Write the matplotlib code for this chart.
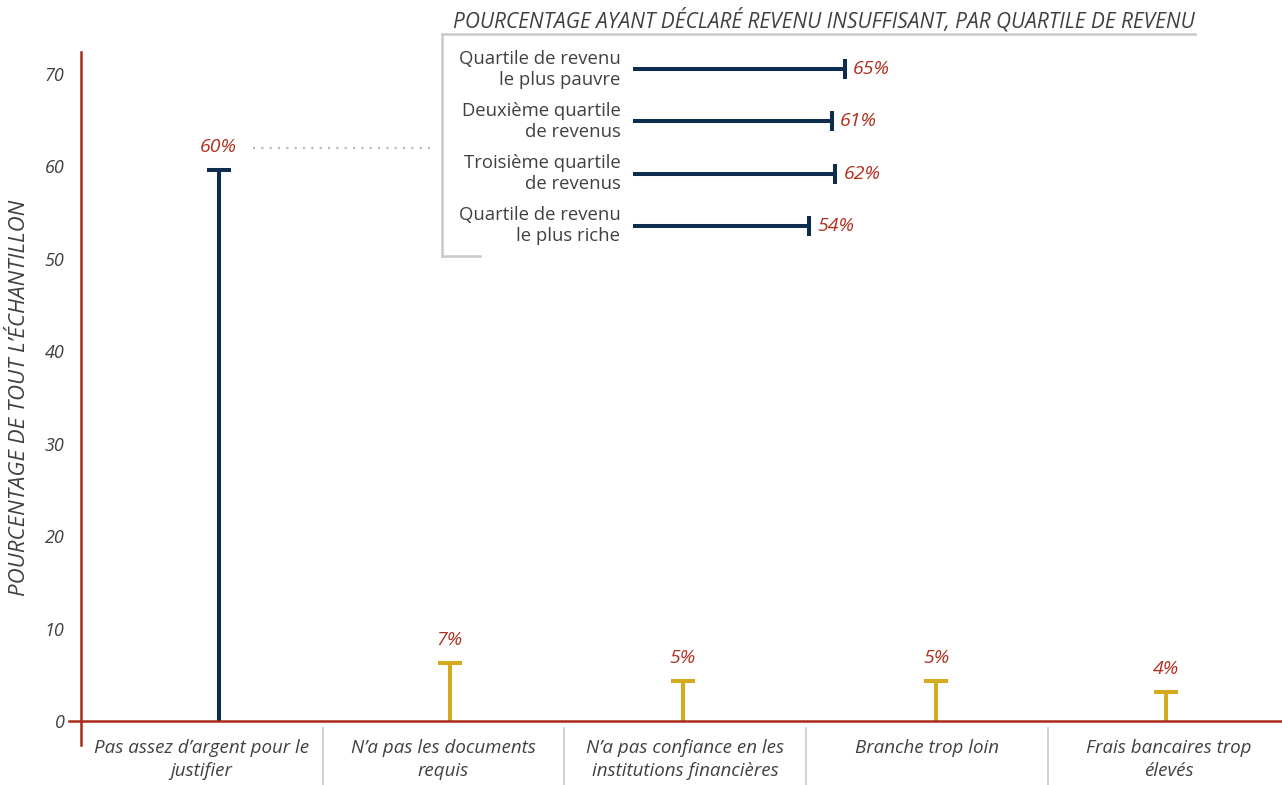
#!/usr/bin/env python3
"""Raisons de ne pas avoir de compte bancaire."""
import matplotlib
matplotlib.use("Agg")
import matplotlib.pyplot as plt
from matplotlib.lines import Line2D

CATEGORIES = ["Pas assez d’argent pour le\njustifier",
              "N’a pas les documents\nrequis",
              "N’a pas confiance en les\ninstitutions financières",
              "Branche trop loin",
              "Frais bancaires trop\nélevés"]
VALUES = [59.6, 6.3, 4.3, 4.3, 3.1]
VALUE_LABELS = ["60%", "7%", "5%", "5%", "4%"]

QUARTILES = ["Quartile de revenu\nle plus pauvre",
             "Deuxième quartile\nde revenus",
             "Troisième quartile\nde revenus",
             "Quartile de revenu\nle plus riche"]
QUARTILE_VALUES = [65, 61, 62, 54]
QUARTILE_LABELS = ["65%", "61%", "62%", "54%"]

YTICKS = [0, 10, 20, 30, 40, 50, 60, 70]

NAVY = "#0c2d4e"
GOLD = "#d6aa1e"
RED = "#ab2a1c"
LABEL_RED = "#b0301f"
GREY_TXT = "#404040"
GREY_LINE = "#c8c8c8"
FONT = "Open Sans"

W, H = 1282, 785
plt.rcParams.update({"font.family": FONT})


def px(x, y):
    """pixel (top-left origin) -> figure fraction"""
    return x / W, 1 - y / H


fig = plt.figure(figsize=(W / 100, H / 100), dpi=100)

# main axes: left 81px, right 1282px, top 52px, bottom 745px
l, b = px(81, 745)
r, t = px(1282, 52)
ax = fig.add_axes([l, b, r - l, t - b])
ax.set_ylim(-2.6, 72.38)
ax.set_xlim(-0.5, 4.47)

for s in ["top", "right", "bottom"]:
    ax.spines[s].set_visible(False)
ax.spines["left"].set_color(RED)
ax.spines["left"].set_linewidth(1.8)

ax.set_yticks(YTICKS)
ax.set_yticklabels([str(v) for v in YTICKS], fontsize=13, style="italic",
                   color=GREY_TXT)
ax.tick_params(axis="y", length=0, pad=12)
ax.set_xticks([])

# baseline, extended a little left of the spine
ax.plot([-0.55, 4.47], [0, 0], color=RED, lw=1.8, clip_on=False, zorder=3)

fig.text(20 / W, 1 - 398 / H, "POURCENTAGE DE TOUT L’ÉCHANTILLON",
         rotation=90, ha="center", va="center", fontsize=16,
         style="italic", color=GREY_TXT)

bar_shift = [0.07, 0.025, -0.01, 0.04, -0.01]
for i, (v, lab) in enumerate(zip(VALUES, VALUE_LABELS)):
    c = NAVY if i == 0 else GOLD
    x = i + bar_shift[i]
    ax.vlines(x, 0, v, color=c, lw=2.9, zorder=2)
    ax.plot([x], [v], marker="_", ms=17, mew=2.9, color=c, zorder=2)
    ax.annotate(lab, (x, v), xytext=(0, 10), textcoords="offset points",
                ha="center", va="bottom", fontsize=14, style="italic",
                color=LABEL_RED)

# category labels and separators
for i, cat in enumerate(CATEGORIES):
    ax.text(i, -1.9, cat, ha="center", va="top", fontsize=13.5,
            style="italic", color=GREY_TXT, linespacing=1.38, clip_on=False)
for i in range(len(CATEGORIES) - 1):
    ax.plot([i + 0.5, i + 0.5], [-0.75, -7.0], color=GREY_LINE, lw=1.2,
            clip_on=False)

# dotted leader to the inset
ax.plot([0.21, 0.95], [62.0, 62.0], color="#b5b5b5", lw=1.5, ls=(0, (1, 3)))

# inset: quartiles
il, ib = px(633, 252)
ir, it = px(959, 43)
ins = fig.add_axes([il, ib, ir - il, it - ib])
ins.set_xlim(0, 100)
ins.set_ylim(3.5, -0.5)
ins.axis("off")
for i, (v, lab, q) in enumerate(zip(QUARTILE_VALUES, QUARTILE_LABELS,
                                    QUARTILES)):
    ins.hlines(i, 0, v, color=NAVY, lw=2.9)
    ins.plot([v], [i], marker="|", ms=15, mew=2.9, color=NAVY)
    ins.annotate(lab, (v, i), xytext=(6, 0), textcoords="offset points",
                 ha="left", va="center", fontsize=14, style="italic",
                 color=LABEL_RED)
    ins.annotate(q, (0, i), xytext=(-9, 0), textcoords="offset points",
                 ha="right", va="center", fontsize=13.3, color=GREY_TXT,
                 linespacing=1.2)

# inset frame and title
for xs, ys in [((442, 1195), (34, 34)), ((442, 442), (34, 256)),
               ((442, 480), (256, 256))]:
    p0 = px(xs[0], ys[0])
    p1 = px(xs[1], ys[1])
    fig.add_artist(Line2D([p0[0], p1[0]], [p0[1], p1[1]], color=GREY_LINE,
                          lw=1.8, transform=fig.transFigure))
tx, ty = px(1195, 20)
fig.text(tx, ty, "POURCENTAGE AYANT DÉCLARÉ REVENU INSUFFISANT, "
         "PAR QUARTILE DE REVENU", ha="right", va="center", fontsize=15,
         style="italic", color=GREY_TXT)

fig.savefig("out.png", dpi=100)
